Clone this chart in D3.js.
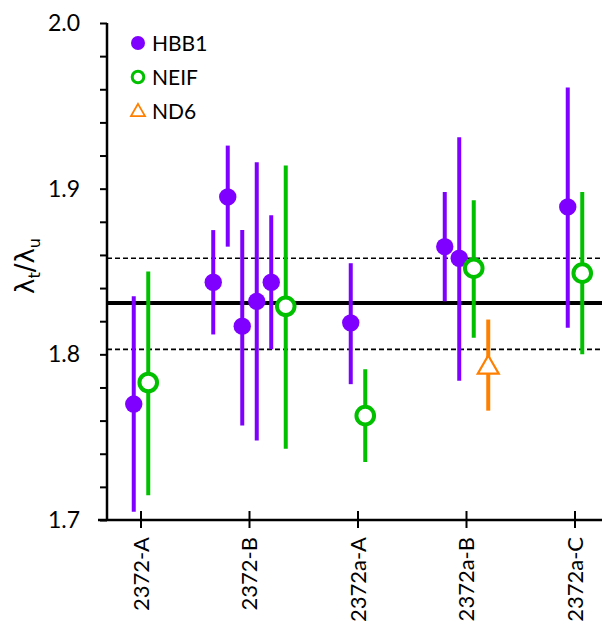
<!DOCTYPE html>
<html>
<head>
<meta charset="utf-8">
<script src="https://cdn.jsdelivr.net/npm/d3@7"></script>
<style>
  html, body { margin: 0; padding: 0; background: #fff; }
  svg { display: block; font-family: Lato, "Open Sans", sans-serif; }
</style>
</head>
<body>
<svg id="chart" width="602" height="627"></svg>
<script>
// ---------- data ----------
const categories = ["2372-A", "2372-B", "2372a-A", "2372a-B", "2372a-C"];
const seriesNames = ["HBB1", "NEIF", "ND6"];

const hbb1Cat  = ["2372-A", "2372-B", "2372-B", "2372-B", "2372-B", "2372-B", "2372a-A", "2372a-B", "2372a-B", "2372a-C"];
const hbb1Val  = [1.770, 1.8435, 1.895, 1.817, 1.832, 1.8435, 1.819, 1.865, 1.858, 1.889];
const hbb1Low  = [1.705, 1.812, 1.865, 1.757, 1.748, 1.803, 1.782, 1.832, 1.784, 1.816];
const hbb1High = [1.835, 1.875, 1.926, 1.875, 1.916, 1.884, 1.855, 1.898, 1.931, 1.961];

const neifCat  = ["2372-A", "2372-B", "2372a-A", "2372a-B", "2372a-C"];
const neifVal  = [1.783, 1.829, 1.763, 1.852, 1.849];
const neifLow  = [1.715, 1.743, 1.735, 1.810, 1.800];
const neifHigh = [1.850, 1.914, 1.791, 1.893, 1.898];

const nd6Cat  = ["2372a-B"];
const nd6Val  = [1.792];
const nd6Low  = [1.766];
const nd6High = [1.821];

const meanValue = 1.831;
const bandLow = 1.803;
const bandHigh = 1.858;

const yMajorTicks = [1.7, 1.8, 1.9, 2.0];

// ---------- styles ----------
const colors = { HBB1: "#7f00ff", NEIF: "#00c000", ND6: "#ff8000" };

// ---------- build points ----------
function build(name, cats, vals, lows, highs) {
  return cats.map((c, i) => ({ series: name, cat: c, v: vals[i], lo: lows[i], hi: highs[i] }));
}
const points = [].concat(
  build("HBB1", hbb1Cat, hbb1Val, hbb1Low, hbb1High),
  build("NEIF", neifCat, neifVal, neifLow, neifHigh),
  build("ND6", nd6Cat, nd6Val, nd6Low, nd6High)
);
// slot within category
const byCat = d3.group(points, d => d.cat);
byCat.forEach(arr => arr.forEach((d, i) => { d.slot = i - (arr.length - 1) / 2; }));

// ---------- scales ----------
const svg = d3.select("#chart");
const x = d3.scalePoint().domain(categories).range([141, 575]);
const slot = d3.scaleLinear().domain([0, 1]).range([0, 14.5]);
const y = d3.scaleLinear().domain([1.7, 2.0]).range([520, 23]);
const xLeft = 107, xRight = 602;

// ---------- reference lines ----------
svg.append("line")
  .attr("x1", xLeft).attr("x2", xRight)
  .attr("y1", y(bandHigh)).attr("y2", y(bandHigh))
  .attr("stroke", "#000").attr("stroke-width", 1.6).attr("stroke-dasharray", "5,3");
svg.append("line")
  .attr("x1", xLeft).attr("x2", xRight)
  .attr("y1", y(bandLow)).attr("y2", y(bandLow))
  .attr("stroke", "#000").attr("stroke-width", 1.6).attr("stroke-dasharray", "5,3");
svg.append("line")
  .attr("x1", xLeft).attr("x2", xRight)
  .attr("y1", y(meanValue)).attr("y2", y(meanValue))
  .attr("stroke", "#000").attr("stroke-width", 4);

// ---------- axes ----------
const yAxis = d3.axisLeft(y)
  .tickValues(d3.range(1.7, 2.0001, 0.02))
  .tickSize(7)
  .tickFormat(d => yMajorTicks.some(t => Math.abs(t - d) < 1e-6) ? d3.format(".1f")(d) : "");
const gy = svg.append("g").attr("transform", `translate(${xLeft},0)`).call(yAxis);
gy.select(".domain").attr("stroke-width", 2.5).attr("d", `M0,${y(2.0)}V${y(1.7)}`);
gy.selectAll(".tick line").attr("stroke-width", 2);
gy.selectAll(".tick text").attr("x", -27).attr("font-size", 23).attr("fill", "#000")
  .attr("font-family", "Lato, sans-serif");

const gx = svg.append("g").attr("transform", `translate(0,${y(1.7)})`);
gx.append("line").attr("x1", 98).attr("x2", xRight).attr("y1", 0).attr("y2", 0)
  .attr("stroke", "#000").attr("stroke-width", 2.5);
const xt = gx.selectAll("g.xtick").data(categories).join("g")
  .attr("class", "xtick").attr("transform", d => `translate(${x(d)},0)`);
xt.append("line").attr("y1", -9).attr("y2", 8).attr("stroke", "#000").attr("stroke-width", 2);
xt.append("text")
  .attr("transform", "translate(0,17) rotate(-90)")
  .attr("text-anchor", "end").attr("dy", "0.35em")
  .attr("font-size", 22).attr("fill", "#000")
  .text(d => d);

// y title
const yt = svg.append("text")
  .attr("transform", `translate(34,266) rotate(-90)`)
  .attr("text-anchor", "middle").attr("font-size", 26).attr("fill", "#000")
  .attr("font-family", "'DejaVu Sans', sans-serif");
yt.append("tspan").text("λ");
yt.append("tspan").attr("font-size", 16).attr("dy", 6).text("t");
yt.append("tspan").attr("dy", -6).text("/λ");
yt.append("tspan").attr("font-size", 16).attr("dy", 6).text("u");

// ---------- data marks ----------
const px = d => x(d.cat) + slot(d.slot);
const g = svg.append("g");
g.selectAll("line.err").data(points).join("line")
  .attr("class", "err")
  .attr("x1", px).attr("x2", px)
  .attr("y1", d => y(d.lo)).attr("y2", d => y(d.hi))
  .attr("stroke", d => colors[d.series]).attr("stroke-width", 4);

g.selectAll("circle.hbb").data(points.filter(d => d.series === "HBB1")).join("circle")
  .attr("class", "hbb").attr("cx", px).attr("cy", d => y(d.v)).attr("r", 8.7)
  .attr("fill", colors.HBB1);
g.selectAll("circle.neif").data(points.filter(d => d.series === "NEIF")).join("circle")
  .attr("class", "neif").attr("cx", px).attr("cy", d => y(d.v)).attr("r", 8.8)
  .attr("fill", "#fff").attr("stroke", colors.NEIF).attr("stroke-width", 4);
const tri = d3.symbol().type(d3.symbolTriangle).size(190);
g.selectAll("path.nd6").data(points.filter(d => d.series === "ND6")).join("path")
  .attr("class", "nd6").attr("d", tri)
  .attr("transform", d => `translate(${px(d)},${y(d.v)})`)
  .attr("fill", "#fff").attr("stroke", colors.ND6).attr("stroke-width", 2.2);

// ---------- legend ----------
const legend = svg.append("g").attr("transform", "translate(138,43)");
const li = legend.selectAll("g").data(seriesNames).join("g")
  .attr("transform", (d, i) => `translate(0,${i * 34})`);
li.filter(d => d === "HBB1").append("circle").attr("r", 7).attr("fill", colors.HBB1);
li.filter(d => d === "NEIF").append("circle").attr("r", 5.8).attr("fill", "#fff")
  .attr("stroke", colors.NEIF).attr("stroke-width", 3);
li.filter(d => d === "ND6").append("path").attr("d", d3.symbol().type(d3.symbolTriangle).size(85))
  .attr("transform", "translate(0,1)")
  .attr("fill", "#fff").attr("stroke", colors.ND6).attr("stroke-width", 1.8);
li.append("text").attr("x", 14).attr("dy", "0.36em").attr("font-size", 21)
  .attr("fill", "#000").text(d => d);
</script>
</body>
</html>
